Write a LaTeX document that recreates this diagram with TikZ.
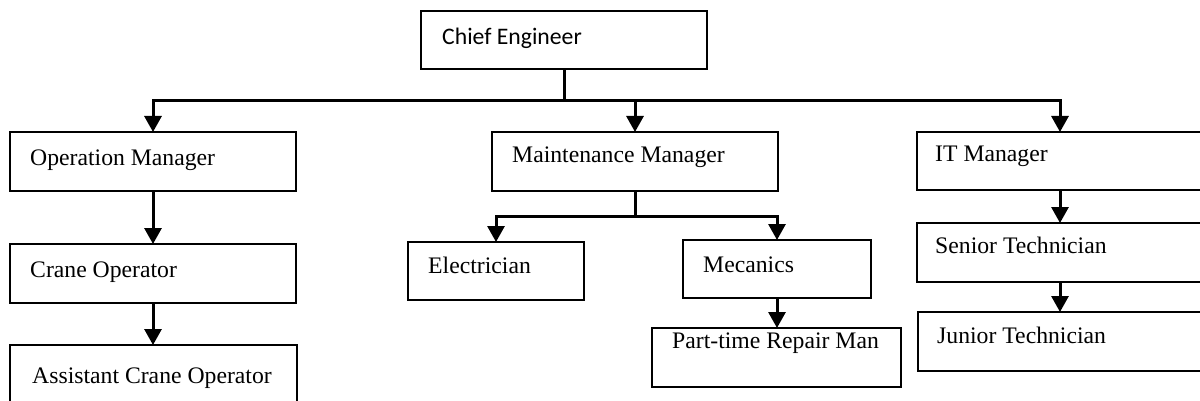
\documentclass[tikz,border=0pt]{standalone}
\usepackage{fontspec}
\setmainfont{Liberation Serif}
\newfontfamily\calfont{Carlito}
\usetikzlibrary{arrows.meta}
\begin{document}
\begin{tikzpicture}[x=1pt,y=-1pt,
  box/.style={draw, line width=1.1pt, minimum height=59pt, anchor=north west, inner sep=0pt, outer sep=0pt},
  lbl/.style={anchor=base west, inner sep=0pt, font=\fontsize{23.7pt}{28pt}\selectfont},
  conn/.style={line width=3pt, -{Triangle[width=17pt,length=16pt]}}]
\useasboundingbox (0,0) rectangle (1200,401);
\clip (0,0) rectangle (1200,401);
% boxes
\node[box, minimum width=286pt, minimum height=58pt] (chief) at (421,11) {};
\node[box, minimum width=286pt] (op) at (10,132) {};
\node[box, minimum width=286pt] (crane) at (10,244) {};
\node[box, minimum width=287pt, minimum height=80pt] (asst) at (10,345) {};
\node[box, minimum width=286pt] (mm) at (492,132) {};
\node[box, minimum width=176pt, minimum height=58pt] (el) at (408,242) {};
\node[box, minimum width=188pt, minimum height=58pt] (mec) at (683,240) {};
\node[box, minimum width=249pt] (pt) at (652,328) {};
\node[box, minimum width=286pt, minimum height=58pt] (it) at (917,132) {};
\node[box, minimum width=286pt] (sen) at (917,223) {};
\node[box, minimum width=286pt] (jun) at (918,312) {};
% labels
\node[lbl, font=\calfont\fontsize{23.7pt}{28pt}\selectfont] (tchief) at (442,45) {Chief Engineer};
\node[lbl] (top) at (30,165) {Operation Manager};
\node[lbl] (tcrane) at (30,277) {Crane Operator};
\node[lbl] (tasst) at (32,383) {Assistant Crane Operator};
\node[lbl] (tmm) at (512,163) {Maintenance Manager};
\node[lbl] (tel) at (428,273) {Electrician};
\node[lbl] (tmec) at (703,272) {Mecanics};
\node[lbl] (tpt) at (672,348) {Part-time Repair Man};
\node[lbl] (tit) at (935,162) {IT Manager};
\node[lbl] (tsen) at (935,253) {Senior Technician};
\node[lbl] (tjun) at (937,343) {Junior Technician};
% connectors
\coordinate (hub) at ([yshift=-32pt]chief.south);
\coordinate (mhub) at ([yshift=-25pt]mm.south);
\draw[conn] (chief.south) -- (hub) -| (op.north);
\draw[conn] (hub) -| (mm.north);
\draw[conn] (hub) -| (it.north);
\draw[conn] (op.south) -- (crane.north);
\draw[conn] (crane.south) -- (asst.north -| crane.south);
\draw[conn] (mm.south) -- (mhub) -| (el.north);
\draw[conn] (mhub) -| (mec.north);
\draw[conn] (mec.south) -- (pt.north -| mec.south);
\draw[conn] (it.south) -- (sen.north);
\draw[conn] (sen.south) -- (jun.north -| sen.south);
\end{tikzpicture}
\end{document}
